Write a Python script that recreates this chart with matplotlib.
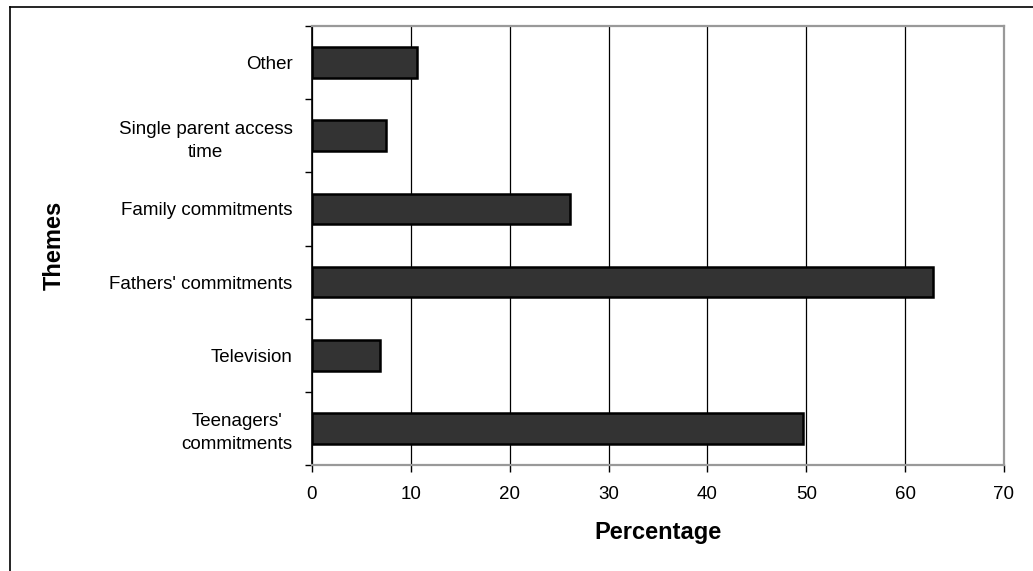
import matplotlib
matplotlib.use("Agg")
import matplotlib.pyplot as plt
from matplotlib.lines import Line2D

plt.rcParams['font.family'] = ['Liberation Sans', 'DejaVu Sans']

# Data (bottom to top)
themes = ["Teenagers'\ncommitments", "Television", "Fathers' commitments",
          "Family commitments", "Single parent access\ntime", "Other"]
percent = [49.7, 6.9, 62.8, 26.1, 7.5, 10.6]
xticks = [0, 10, 20, 30, 40, 50, 60, 70]

fig = plt.figure(figsize=(10.33, 5.71), dpi=100)
ax = fig.add_axes([0.3020, 0.1856, 0.6699, 0.7689])

# outer chart frame (only left/top visible in the original)
fig.add_artist(Line2D([10 / 1033, 10 / 1033], [0, 1 - 7 / 571], color='black', lw=1.2,
                      transform=fig.transFigure))
fig.add_artist(Line2D([10 / 1033, 1], [1 - 7 / 571, 1 - 7 / 571], color='black', lw=1.2,
                      transform=fig.transFigure))

pos = list(range(len(themes)))
ax.barh(pos, percent, height=0.42, color='#333333', edgecolor='black', linewidth=1.8, zorder=3)

ax.set_xlim(0, 70)
ax.set_ylim(-0.5, len(themes) - 0.5)
ax.set_xticks(xticks)
ax.set_xticklabels([str(t) for t in xticks], fontsize=13.5)
ax.xaxis.grid(True, color='black', linewidth=0.9, zorder=0)
ax.set_axisbelow(True)

ax.set_yticks(pos)
ax.set_yticklabels(themes, fontsize=13.5, multialignment='center', linespacing=1.45)
ax.set_yticks([p - 0.5 for p in pos] + [len(themes) - 0.5], minor=True)
ax.tick_params(axis='y', which='major', length=0, pad=14)
ax.tick_params(axis='y', which='minor', length=5, width=1, color='black', direction='out')
ax.tick_params(axis='x', which='major', length=5, width=1, color='black', direction='out', pad=10)

for side in ['top', 'right', 'bottom']:
    ax.spines[side].set_color('#999999')
    ax.spines[side].set_linewidth(1.6)
ax.spines['left'].set_color('black')
ax.spines['left'].set_linewidth(1.2)

ax.set_xlabel('Percentage', fontsize=17, fontweight='bold')
ax.xaxis.set_label_coords(0.5, -0.1526)
ax.xaxis.label.set_va('center')
ax.set_ylabel('Themes', fontsize=17, fontweight='bold')
ax.yaxis.set_label_coords(-0.3728, 0.5)
ax.yaxis.label.set_va('center')

fig.savefig('out.png', dpi=100)
